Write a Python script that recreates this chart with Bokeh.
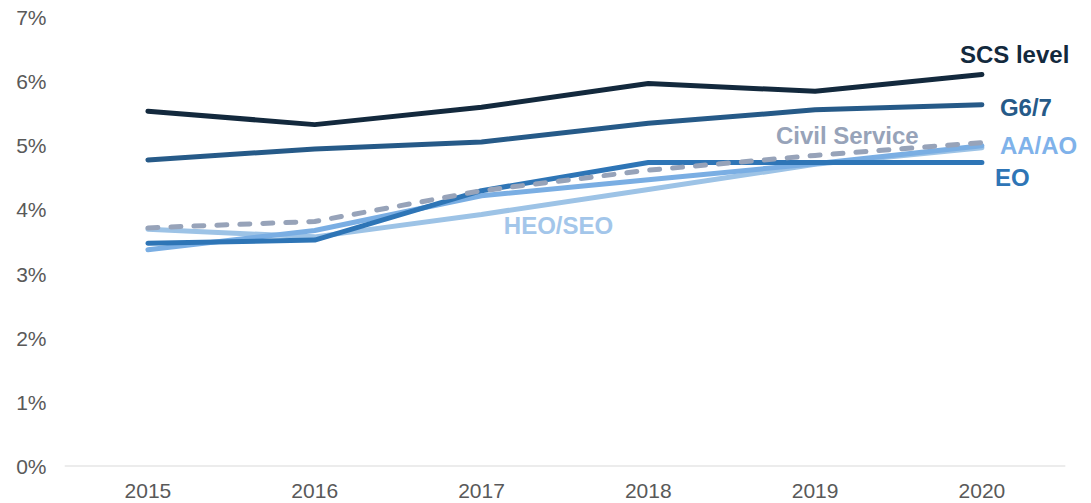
from bokeh.plotting import figure
from bokeh.models import FixedTicker, PrintfTickFormatter, Range1d
from bokeh.core.properties import value
from bokeh.embed import file_html
from bokeh.resources import INLINE

years = [2015, 2016, 2017, 2018, 2019, 2020]
scs = [5.54, 5.33, 5.60, 5.97, 5.85, 6.11]
g67 = [4.78, 4.95, 5.06, 5.35, 5.56, 5.64]
civil_service = [3.72, 3.82, 4.30, 4.62, 4.85, 5.05]
eo = [3.48, 3.53, 4.30, 4.74, 4.74, 4.74]
aa_ao = [3.38, 3.68, 4.22, 4.47, 4.72, 5.00]
heo_seo = [3.70, 3.58, 3.93, 4.32, 4.71, 4.97]
y_ticks = [0, 1, 2, 3, 4, 5, 6, 7]

# label annotations: text, position (data units), colour
label_texts = ["SCS level", "G6/7", "Civil Service", "AA/AO", "EO", "HEO/SEO"]
label_x = [2019.868, 2020.108, 2018.765, 2020.108, 2020.078, 2017.134]
label_y = [6.42, 5.60, 5.16, 5.01, 4.51, 3.75]
label_colors = ["#13293d", "#265a88", "#97a3b9", "#7fb2ea", "#2e75b6", "#a3c6ea"]

p = figure(width=1082, height=500, output_backend="svg", toolbar_location=None,
           x_range=Range1d(2014.5, 2020.603), y_range=Range1d(0, 7),
           min_border_left=64, min_border_right=0, min_border_top=17, min_border_bottom=31)
p.outline_line_color = None
p.xgrid.visible = False
p.ygrid.visible = False
p.background_fill_color = "white"

# baseline at 0%
p.segment(x0=[2014.5], y0=[0], x1=[2020.5], y1=[0], line_color="#d9d9d9", line_width=2)

lw = 5
p.line(years, heo_seo, line_color="#9dc3e6", line_width=lw, line_cap="round")
p.line(years, aa_ao, line_color="#7aaee3", line_width=lw, line_cap="round")
p.line(years, eo, line_color="#2e75b6", line_width=lw, line_cap="round")
p.line(years, civil_service, line_color="#97a3b9", line_width=lw, line_cap="round",
       line_dash="10 13")
p.line(years, g67, line_color="#265a88", line_width=lw, line_cap="round")
p.line(years, scs, line_color="#13293d", line_width=lw, line_cap="round")

p.text(x=label_x, y=label_y, text=label_texts, text_color=label_colors,
       text_font=value("Liberation Sans"), text_font_size="24px", text_font_style="bold",
       text_align="left", text_baseline="middle")

p.xaxis.ticker = FixedTicker(ticks=years)
p.xaxis.formatter = PrintfTickFormatter(format="%d")
p.xaxis.axis_line_color = None
p.xaxis.major_tick_line_color = None
p.xaxis.minor_tick_line_color = None
p.xaxis.major_label_standoff = 11
p.xaxis.major_label_text_font = "Liberation Sans"
p.xaxis.major_label_text_font_size = "21px"
p.xaxis.major_label_text_color = "#595959"

p.yaxis.ticker = FixedTicker(ticks=y_ticks)
p.yaxis.formatter = PrintfTickFormatter(format="%d%%")
p.yaxis.axis_line_color = None
p.yaxis.major_tick_line_color = None
p.yaxis.minor_tick_line_color = None
p.yaxis.major_label_standoff = 12
p.yaxis.major_label_text_font = "Liberation Sans"
p.yaxis.major_label_text_font_size = "21px"
p.yaxis.major_label_text_color = "#595959"

open("out.html", "w").write(file_html(p, INLINE))
